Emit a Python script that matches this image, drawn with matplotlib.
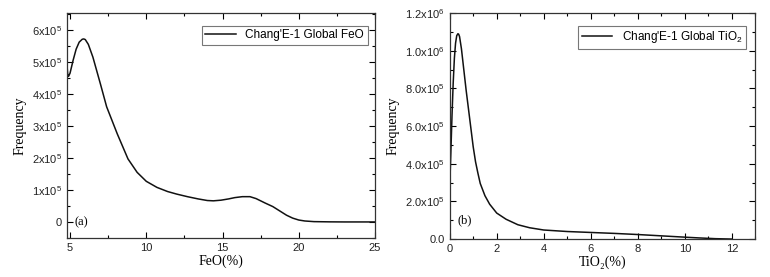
import matplotlib
matplotlib.use('Agg')
import matplotlib.pyplot as plt
from matplotlib.ticker import FixedLocator, MultipleLocator, FuncFormatter

# FeO histogram (panel a)
feo_x = [4.8, 4.85, 4.9, 5.0, 5.2, 5.4, 5.6, 5.8, 5.9, 6.0, 6.2, 6.5, 7.0, 7.4, 8.1,
         8.8, 9.4, 10.0, 10.7, 11.4, 12.0, 12.7, 13.4, 14.0, 14.4, 14.9, 15.4, 15.8,
         16.3, 16.8, 17.2, 17.8, 18.3, 18.8, 19.2, 19.6, 20.0, 20.4, 21.0, 22.0, 23.0,
         24.0, 25.0]
feo_y = [4.9e5, 4.6e5, 4.55e5, 4.65e5, 5.05e5, 5.4e5, 5.62e5, 5.71e5, 5.72e5, 5.7e5,
         5.55e5, 5.15e5, 4.3e5, 3.6e5, 2.75e5, 1.97e5, 1.55e5, 1.27e5, 1.08e5,
         0.95e5, 0.87e5, 0.79e5, 0.72e5, 0.67e5, 0.66e5, 0.68e5, 0.72e5, 0.76e5,
         0.79e5, 0.79e5, 0.73e5, 0.59e5, 0.48e5, 0.33e5, 0.21e5, 0.12e5, 0.06e5,
         0.03e5, 0.01e5, 0.003e5, 0.0, 0.0, 0.0]

# TiO2 histogram (panel b)
tio_x = [0.0, 0.05, 0.1, 0.15, 0.2, 0.25, 0.3, 0.35, 0.38, 0.42, 0.5, 0.6, 0.7, 0.8,
         0.9, 1.0, 1.1, 1.2, 1.3, 1.5, 1.7, 2.0, 2.4, 2.9, 3.4, 4.0, 5.0, 6.0, 7.0,
         8.0, 9.0, 10.0, 10.6, 11.3, 12.0]
tio_y = [2.7e5, 4.6e5, 6.6e5, 8.3e5, 9.6e5, 10.4e5, 10.8e5, 10.9e5, 10.88e5, 10.75e5,
         10.1e5, 9.0e5, 7.9e5, 6.9e5, 5.9e5, 4.9e5, 4.1e5, 3.5e5, 2.95e5, 2.3e5,
         1.85e5, 1.38e5, 1.05e5, 0.76e5, 0.6e5, 0.48e5, 0.4e5, 0.35e5, 0.3e5,
         0.24e5, 0.17e5, 0.1e5, 0.06e5, 0.02e5, 0.0]

sans = 'Liberation Sans'
serif = 'Liberation Serif'


def sci_a(v, pos):
    if abs(v) < 1:
        return '0'
    return r'%dx10$^{5}$' % round(v / 1e5)


def sci_b(v, pos):
    if abs(v) < 1:
        return '0.0'
    if v >= 1e6 - 1:
        return r'%.1fx10$^{6}$' % (v / 1e6)
    return r'%.1fx10$^{5}$' % (v / 1e5)


def style(ax):
    ax.tick_params(which='both', direction='in', top=True, right=True,
                   labelsize=8, width=0.8)
    ax.tick_params(which='major', length=4)
    ax.tick_params(which='minor', length=2)
    for s in ax.spines.values():
        s.set_color('#333333')
        s.set_linewidth(0.9)
    for lab in ax.get_xticklabels() + ax.get_yticklabels():
        lab.set_family(sans)
        lab.set_color('#222222')


fig = plt.figure(figsize=(7.7, 2.77), dpi=100)
plt.rcParams['mathtext.fontset'] = 'custom'
plt.rcParams['mathtext.rm'] = sans
plt.rcParams['mathtext.it'] = sans

ax1 = fig.add_axes([0.087, 0.141, 0.4, 0.812])
ax1.plot(feo_x, feo_y, color='#111111', lw=1.1, label="Chang'E-1 Global FeO")
ax1.set_xlim(4.8, 25)
ax1.set_ylim(-0.5e5, 6.53e5)
ax1.xaxis.set_major_locator(FixedLocator([5, 10, 15, 20, 25]))
ax1.xaxis.set_minor_locator(MultipleLocator(2.5))
ax1.yaxis.set_major_locator(MultipleLocator(1e5))
ax1.yaxis.set_minor_locator(MultipleLocator(0.5e5))
ax1.yaxis.set_major_formatter(FuncFormatter(sci_a))
ax1.set_xlabel('FeO(%)', family=serif, fontsize=10, labelpad=1)
ax1.set_ylabel('Frequency', family=serif, fontsize=10, labelpad=4)
ax1.text(5.3, 0, '(a)', family=serif, fontsize=9, va='center')
leg = ax1.legend(loc='upper right', prop={'family': sans, 'size': 8.5},
                 fancybox=False, edgecolor='#555555', handlelength=2.6,
                 borderpad=0.3, bbox_to_anchor=(0.995, 0.97))
leg.get_frame().set_linewidth(0.8)
style(ax1)

ax2 = fig.add_axes([0.584, 0.137, 0.397, 0.816])
ax2.plot(tio_x, tio_y, color='#111111', lw=1.1, label="Chang'E-1 Global TiO$_2$")
ax2.set_xlim(0, 13)
ax2.set_ylim(0, 1.2e6)
ax2.xaxis.set_major_locator(MultipleLocator(2))
ax2.xaxis.set_minor_locator(MultipleLocator(1))
ax2.yaxis.set_major_locator(MultipleLocator(2e5))
ax2.yaxis.set_minor_locator(MultipleLocator(1e5))
ax2.yaxis.set_major_formatter(FuncFormatter(sci_b))
ax2.set_xlabel('TiO\u2082(%)', family=serif, fontsize=10, labelpad=1)
ax2.set_ylabel('Frequency', family=serif, fontsize=10, labelpad=4)
ax2.text(0.35, 1.0e5, '(b)', family=serif, fontsize=9, va='center')
leg2 = ax2.legend(loc='upper right', prop={'family': sans, 'size': 8.5},
                  fancybox=False, edgecolor='#555555', handlelength=2.6,
                  borderpad=0.3, bbox_to_anchor=(0.99, 0.97))
leg2.get_frame().set_linewidth(0.8)
style(ax2)

fig.savefig('out.png', dpi=100)
